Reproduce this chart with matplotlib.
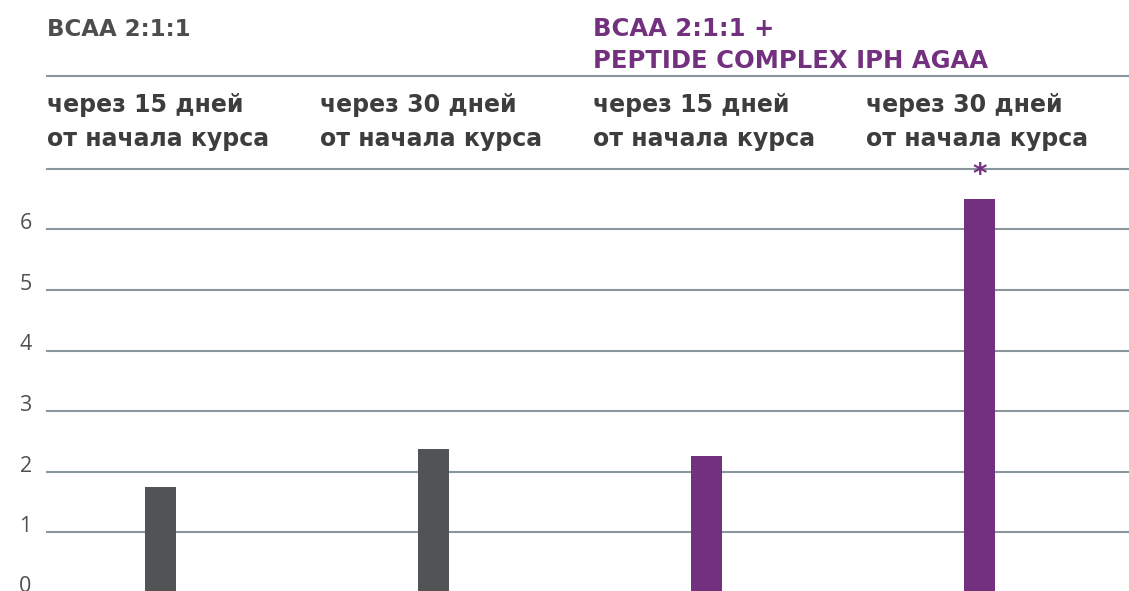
import matplotlib
matplotlib.use("Agg")
import matplotlib.pyplot as plt
from matplotlib.lines import Line2D

# Data
group_titles = ["BCAA 2:1:1", "BCAA 2:1:1 +\nPEPTIDE COMPLEX IPH AGAA"]
column_labels = ["через 15 дней\nот начала курса", "через 30 дней\nот начала курса",
                 "через 15 дней\nот начала курса", "через 30 дней\nот начала курса"]
values = [1.75, 2.38, 2.25, 6.5]
bar_colors = ["#525355", "#525355", "#73307f", "#73307f"]
significant = [False, False, False, True]
y_ticks = [0, 1, 2, 3, 4, 5, 6]

W, H = 1129, 591
fig = plt.figure(figsize=(W / 100, H / 100), dpi=100)
fig.patch.set_facecolor("white")

ax_left_px = 47
col_px = 273
ax_top_px = 169
ax_bottom_px = 592.5  # zero line sits just below the visible image
ax = fig.add_axes([ax_left_px / W, (H - ax_bottom_px) / H,
                   1 - ax_left_px / W, (ax_bottom_px - ax_top_px) / H])
xmax = (W - ax_left_px) / col_px
ax.set_xlim(0, xmax)
ax.set_ylim(0, 7)

grid_color = "#8a969e"
for t in y_ticks + [7]:
    ax.axhline(t, color=grid_color, lw=1.5, zorder=1, clip_on=False)

xs = [i + 0.416 for i in range(len(values))]
ax.bar(xs, values, width=0.114, color=bar_colors, zorder=2)

for x, v, s in zip(xs, values, significant):
    if s:
        ax.text(x, 6.9, "*", ha="center", va="center", color="#73307f",
                fontsize=20, fontweight="bold", zorder=3)

ax.set_yticks(y_ticks)
ax.set_yticklabels([str(t) for t in y_ticks], fontsize=15.5, color="#505050",
                   fontfamily="Open Sans")
for lbl in ax.get_yticklabels():
    lbl.set_va("baseline")
ax.tick_params(axis="y", length=0, pad=11)
ax.set_xticks([])
for sp in ax.spines.values():
    sp.set_visible(False)

# Header lines
fig.add_artist(Line2D([ax_left_px / W, 1], [1 - 76 / H, 1 - 76 / H],
                      color=grid_color, lw=1.5))

# Group titles
fig.text(ax_left_px / W, 1 - 29 / H, group_titles[0], ha="left", va="center",
         fontsize=16.5, fontweight="bold", color="#4d4d4f", fontfamily="DejaVu Sans")
fig.text((ax_left_px + 2 * col_px) / W, 1 - 45 / H, group_titles[1], ha="left",
         va="center", fontsize=17.5, fontweight="bold", color="#73307f",
         fontfamily="DejaVu Sans", linespacing=1.42)

# Column labels
for i, lab in enumerate(column_labels):
    fig.text((ax_left_px + i * col_px) / W, 1 - 122 / H, lab, ha="left",
             va="center", fontsize=17, fontweight="bold", color="#3d3d3d",
             fontfamily="DejaVu Sans", linespacing=1.54)

fig.savefig("out.png", dpi=100)
